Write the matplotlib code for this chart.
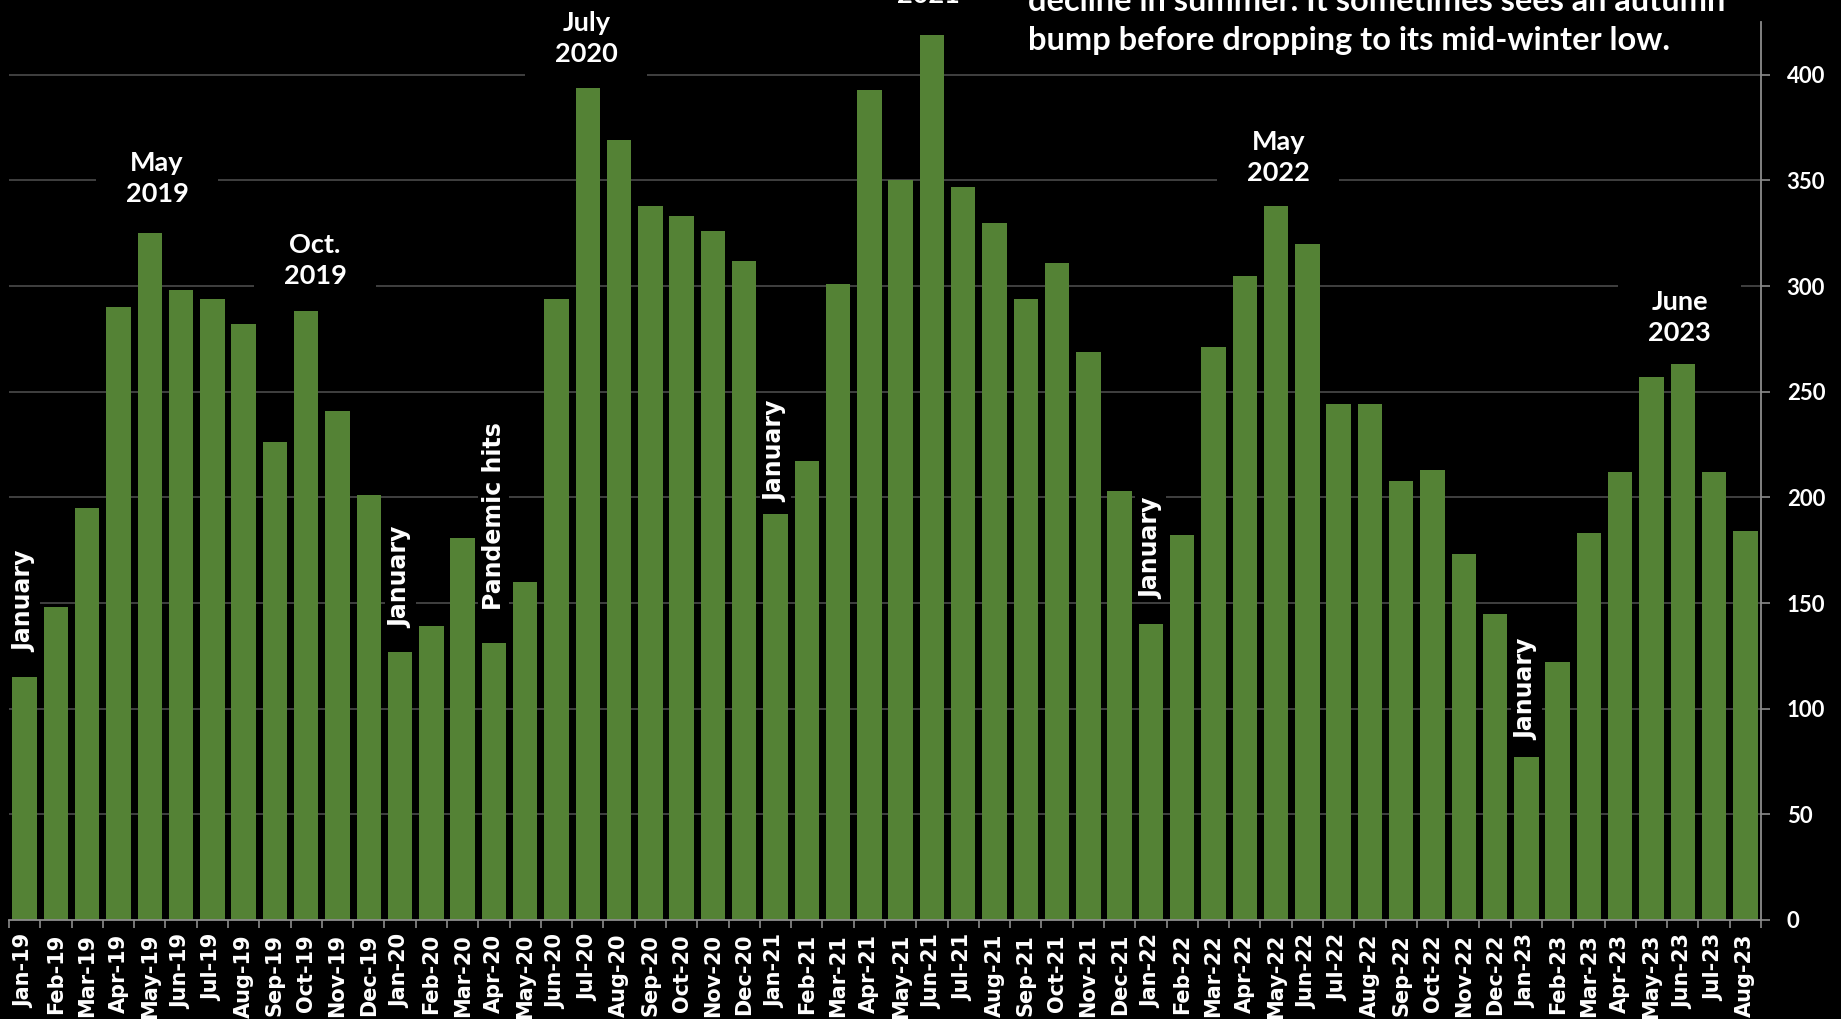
import matplotlib
matplotlib.use("Agg")
import matplotlib.pyplot as plt
import numpy as np

months = [
    "Jan-19", "Feb-19", "Mar-19", "Apr-19", "May-19", "Jun-19", "Jul-19", "Aug-19",
    "Sep-19", "Oct-19", "Nov-19", "Dec-19", "Jan-20", "Feb-20", "Mar-20", "Apr-20",
    "May-20", "Jun-20", "Jul-20", "Aug-20", "Sep-20", "Oct-20", "Nov-20", "Dec-20",
    "Jan-21", "Feb-21", "Mar-21", "Apr-21", "May-21", "Jun-21", "Jul-21", "Aug-21",
    "Sep-21", "Oct-21", "Nov-21", "Dec-21", "Jan-22", "Feb-22", "Mar-22", "Apr-22",
    "May-22", "Jun-22", "Jul-22", "Aug-22", "Sep-22", "Oct-22", "Nov-22", "Dec-22",
    "Jan-23", "Feb-23", "Mar-23", "Apr-23", "May-23", "Jun-23", "Jul-23", "Aug-23",
]
values = [
    115, 148, 195, 290, 325, 298, 294, 282, 226, 288, 241, 201,
    127, 139, 181, 131, 160, 294, 394, 369, 338, 333, 326, 312,
    192, 217, 301, 393, 350, 419, 347, 330, 294, 311, 269, 203,
    140, 182, 271, 305, 338, 320, 244, 244, 208, 213, 173, 145,
    77, 122, 183, 212, 257, 263, 212, 184,
]

# peak callouts: text, month index
peak_labels = ["May\n2019", "Oct.\n2019", "July\n2020", "June\n2021", "May\n2022", "June\n2023"]
peak_months = [4, 9, 18, 29, 40, 53]
# vertical callouts above low months
low_labels = ["January", "January", "Pandemic hits", "January", "January", "January"]
low_months = [0, 12, 15, 24, 36, 48]

note = ("decline in summer. It sometimes sees an autumn\n"
        "bump before dropping to its mid-winter low.")

GREEN = "#548235"
GRID = "#404040"
AXIS = "#8c8c8c"
NICE = ["Lato", "DejaVu Sans"]

fig = plt.figure(figsize=(18.41, 10.19), dpi=100, facecolor="black")
ax = fig.add_axes([9 / 1841, 99 / 1019, 1752 / 1841, 898 / 1019])
ax.set_facecolor("black")

x = np.arange(len(months))
ax.bar(x, values, width=0.78, color=GREEN, zorder=2)

ax.set_xlim(-0.5, len(months) - 0.5)
ax.set_ylim(0, 425)

# axes styling
for side in ["left", "top"]:
    ax.spines[side].set_visible(False)
ax.spines["right"].set_color(AXIS)
ax.spines["bottom"].set_color(AXIS)
ax.spines["right"].set_linewidth(1.3)
ax.spines["bottom"].set_linewidth(1.3)

ax.set_axisbelow(True)
ax.yaxis.tick_right()
ax.set_yticks(range(0, 401, 50))
ax.set_yticklabels([str(v) for v in range(0, 401, 50)], family=NICE,
                   fontweight="bold", fontsize=16, color="white")
ax.tick_params(axis="y", length=6.5, width=1.2, color=AXIS, pad=12)
ax.grid(axis="y", color=GRID, linewidth=1.4)
ax.yaxis.get_gridlines()[0].set_visible(False)

ax.set_xticks(x)
ax.set_xticklabels(months, rotation=90, fontsize=15, fontweight="bold",
                   color="white", family="DejaVu Sans")
ax.set_xticks(np.arange(-0.5, len(months)), minor=True)
ax.tick_params(axis="x", which="major", length=0, pad=10)
ax.tick_params(axis="x", which="minor", length=6, width=1.2, color=AXIS)

# peak callouts, black box hides the gridline behind them
peak_pos = [(4.23, 351), (9.28, 312), (17.95, 417), (28.88, 445), (40.07, 361), (52.9, 285)]
for label, (px, py) in zip(peak_labels, peak_pos):
    ax.text(px, py, label, ha="center", va="center", color="white",
            fontsize=19.5, fontweight="bold", family=NICE, linespacing=1.35,
            bbox=dict(boxstyle="square,pad=1.1", fc="black", ec="none"),
            zorder=1.5, clip_on=False)

low_pos = [151, 162, 191, 222, 176, 109]
for label, mi, py in zip(low_labels, low_months, low_pos):
    ax.text(mi, py, label, rotation=90, ha="center", va="center", color="white",
            fontsize=17, fontweight="bold", family="DejaVu Sans",
            bbox=dict(boxstyle="square,pad=0.15", fc="black", ec="none"),
            zorder=1.5)

# the note runs off the top edge, as in the original crop
fig.text(1028 / 1841, 1 - 21 / 1019, note, ha="left", va="center", color="white",
         fontsize=23.4, fontweight="bold", family=NICE, linespacing=1.4)

fig.savefig("out.png", dpi=100, facecolor="black")
